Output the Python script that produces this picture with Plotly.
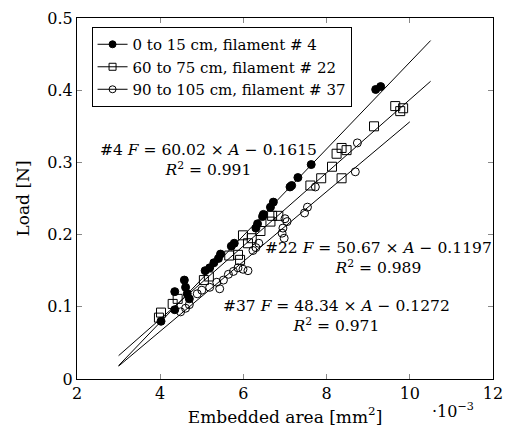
import plotly.graph_objects as go

# ---- data (x in 1e-3 mm^2, y in N) ----
f4_x = [4.02, 4.35, 4.35, 4.58, 4.61, 4.65, 4.70, 5.08, 5.19, 5.29, 5.40, 5.45, 5.71, 5.78,
        6.30, 6.34, 6.46, 6.48, 6.65, 6.72, 7.12, 7.16, 7.31, 7.63, 9.18, 9.30]
f4_y = [0.080, 0.096, 0.121, 0.137, 0.127, 0.118, 0.111, 0.150, 0.154, 0.161, 0.167, 0.173, 0.184, 0.188,
        0.209, 0.215, 0.225, 0.228, 0.238, 0.245, 0.266, 0.268, 0.279, 0.297, 0.401, 0.405]

f22_x = [4.02, 3.97, 4.30, 4.42, 5.05, 5.17, 5.66, 5.87, 5.92, 5.99, 6.11, 6.20, 6.41, 6.65,
         6.69, 6.84, 7.61, 7.87, 8.13, 8.24, 8.36, 8.48, 8.36, 9.14, 9.65, 9.84, 9.77]
f22_y = [0.092, 0.085, 0.104, 0.111, 0.137, 0.142, 0.171, 0.172, 0.165, 0.199, 0.188, 0.195, 0.205, 0.218,
         0.226, 0.226, 0.268, 0.278, 0.294, 0.312, 0.320, 0.317, 0.278, 0.350, 0.378, 0.375, 0.371]

f37_x = [4.49, 4.61, 4.70, 4.89, 5.00, 5.19, 5.36, 5.43, 5.52, 5.64, 5.76, 5.87, 5.99, 6.11,
         6.23, 6.30, 6.37, 6.93, 6.95, 7.00, 7.05, 6.98, 7.47, 7.54, 7.73, 8.69, 8.74]
f37_y = [0.093, 0.098, 0.103, 0.118, 0.123, 0.127, 0.134, 0.125, 0.137, 0.145, 0.149, 0.154, 0.152, 0.150,
         0.178, 0.182, 0.188, 0.202, 0.209, 0.222, 0.218, 0.195, 0.230, 0.238, 0.266, 0.287, 0.327]

# fit parameters (slope in N/mm^2, intercept in N) and x-range of drawn fit lines
fit_names = ["#4", "#22", "#37"]
fit_slope = [60.02, 50.67, 48.34]
fit_icpt = [-0.1615, -0.1197, -0.1272]
fit_r2 = [0.991, 0.989, 0.971]
fit_xrange = [[3.0, 10.5], [3.0, 10.5], [3.0, 10.0]]
fit_label_pos = [[5.17, 0.304], [9.25, 0.167], [8.24, 0.087]]

legend_names = ["0 to 15 cm, filament # 4", "60 to 75 cm, filament # 22", "90 to 105 cm, filament # 37"]

FONT = "DejaVu Serif"

fig = go.Figure()

# fit lines
for s, b, xr in zip(fit_slope, fit_icpt, fit_xrange):
    ys = [s * x * 1e-3 + b for x in xr]
    fig.add_trace(go.Scatter(x=xr, y=ys, mode="lines", line=dict(color="black", width=1),
                             showlegend=False, hoverinfo="skip"))

series = [(f4_x, f4_y, "circle"), (f22_x, f22_y, "square-open"), (f37_x, f37_y, "circle-open")]
for (xs, ys, sym), name in zip(series, legend_names):
    fig.add_trace(go.Scatter(
        x=xs, y=ys, mode="markers", name=name, showlegend=False,
        marker=dict(symbol=sym, size=8 if sym != "square-open" else 9, color="black",
                    line=dict(color="black", width=1)),
    ))

# legend entries showing line+marker
for (xs, ys, sym), name in zip(series, legend_names):
    fig.add_trace(go.Scatter(
        x=[None], y=[None], mode="lines+markers", name=name,
        line=dict(color="black", width=1),
        marker=dict(symbol=sym, size=7, color="black", line=dict(color="black", width=1)),
    ))

for n, s, b, r2, pos in zip(fit_names, fit_slope, fit_icpt, fit_r2, fit_label_pos):
    txt = (f"{n} <i>F</i> = {s:.2f} × <i>A</i> − {abs(b):.4f}<br>"
           f"<i>R</i><sup>2</sup> = {r2:.3f}")
    fig.add_annotation(x=pos[0], y=pos[1], xref="x", yref="y", text=txt, showarrow=False,
                       align="center", font=dict(family=FONT, size=15.5, color="black"))

fig.add_annotation(x=0.905, y=-0.086, xref="paper", yref="paper", xanchor="center", yanchor="middle",
                   text="·10<sup>−3</sup>", showarrow=False,
                   font=dict(family=FONT, size=16, color="black"))

axis_common = dict(showgrid=False, zeroline=False, showline=True, linecolor="black", linewidth=1,
                   mirror="ticks", ticks="inside", ticklen=5, tickcolor="#888888",
                   ticklabeloverflow="allow",
                   tickfont=dict(family=FONT, size=16, color="black"))

fig.update_layout(
    width=512, height=444,
    margin=dict(l=77, r=9, t=10, b=65),
    paper_bgcolor="white", plot_bgcolor="white",
    font=dict(family=FONT, size=16, color="black"),
    xaxis=dict(range=[2, 12], tickvals=[2, 4, 6, 8, 10, 12],
               title=dict(text="Embedded area [mm<sup>2</sup>]", standoff=8,
                          font=dict(family=FONT, size=17)), **axis_common),
    yaxis=dict(range=[0, 0.5], tickvals=[0, 0.1, 0.2, 0.3, 0.4, 0.5],
               ticktext=["0", "0.1", "0.2", "0.3", "0.4", "0.5"],
               title=dict(text="Load [N]", standoff=13, font=dict(family=FONT, size=17)),
               **axis_common),
    legend=dict(x=0.035, y=0.975, xanchor="left", yanchor="top", bgcolor="white",
                bordercolor="black", borderwidth=1, tracegroupgap=0, itemwidth=30,
                font=dict(family=FONT, size=15, color="black")),
    showlegend=True,
)

fig.write_html("out.html")
